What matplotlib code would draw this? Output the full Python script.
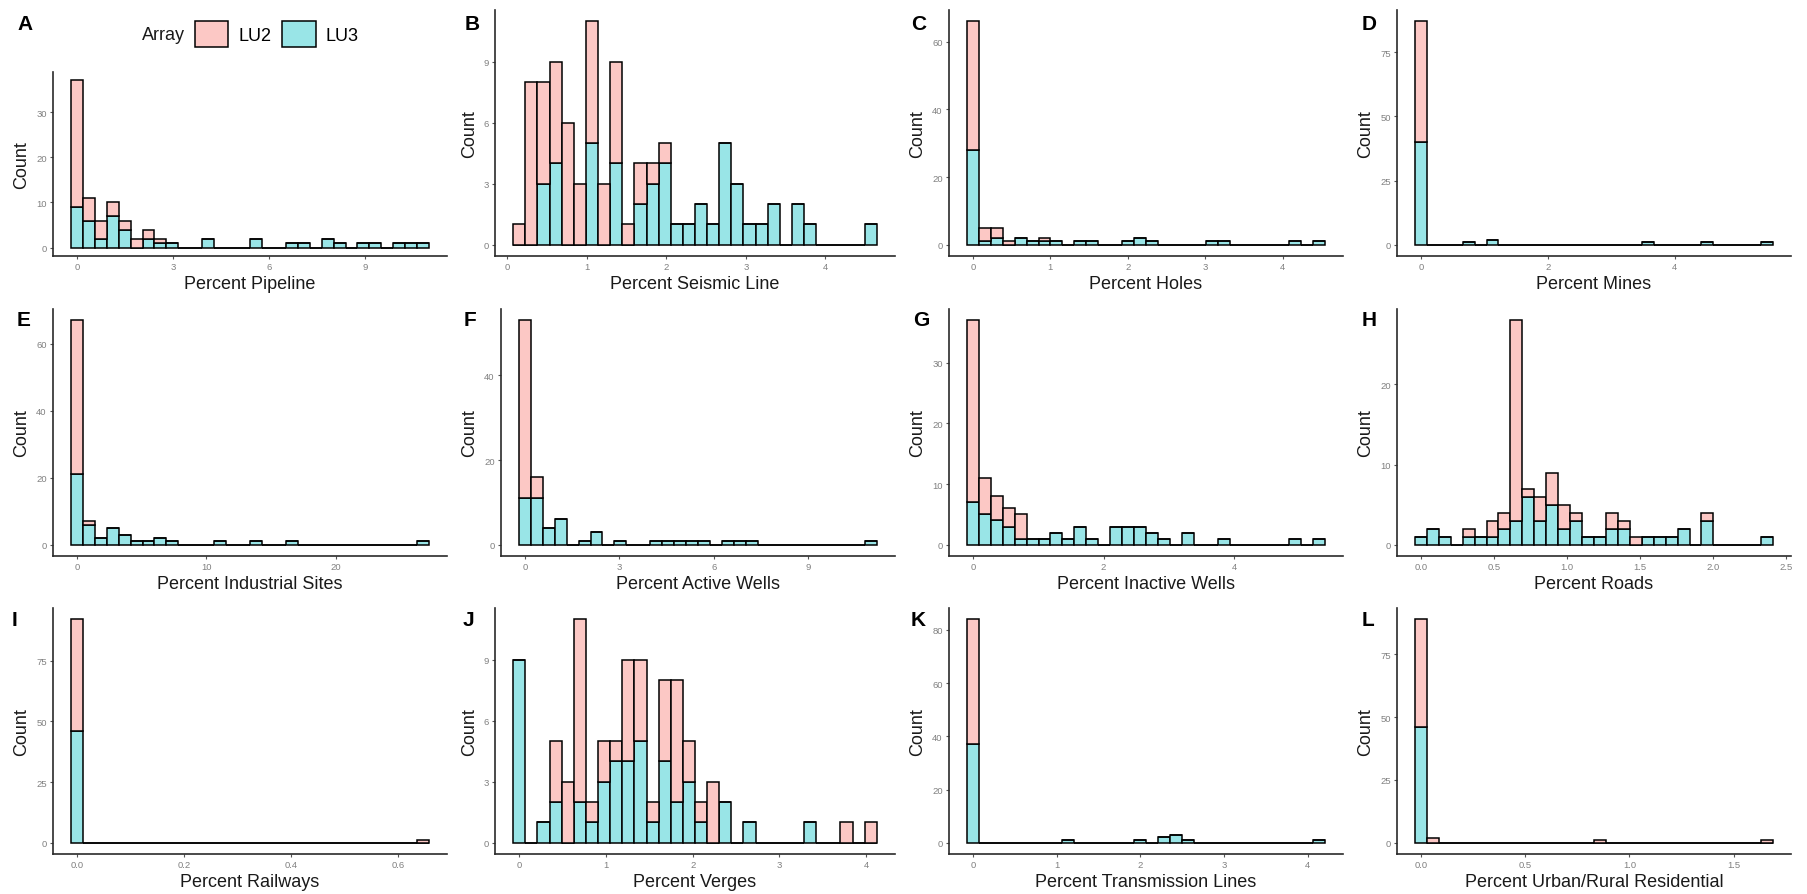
import numpy as np
import matplotlib.pyplot as plt
from matplotlib.patches import Patch

plt.rcParams['font.family'] = ['Liberation Sans', 'DejaVu Sans']

# --- Histogram counts: 30 bins per variable, (first, last) bin centre ---
pipeline_range = (0.0, 10.8)
pipeline_lu3 = [9, 6, 2, 7, 4, 0, 2, 1, 1, 0, 0, 2, 0, 0, 0, 2, 0, 0, 1, 1, 0, 2, 1, 0, 1, 1, 0, 1, 1, 1]
pipeline_lu2 = [28, 5, 4, 3, 2, 2, 2, 1, 0, 0, 0, 0, 0, 0, 0, 0, 0, 0, 0, 0, 0, 0, 0, 0, 0, 0, 0, 0, 0, 0]

seismic_range = (0.151, 4.571)
seismic_lu3 = [0, 0, 3, 4, 0, 0, 5, 0, 4, 0, 2, 3, 4, 1, 1, 2, 1, 5, 3, 1, 1, 2, 0, 2, 1, 0, 0, 0, 0, 1]
seismic_lu2 = [1, 8, 5, 5, 6, 3, 6, 3, 5, 1, 2, 1, 1, 0, 0, 0, 0, 0, 0, 0, 0, 0, 0, 0, 0, 0, 0, 0, 0, 0]

holes_range = (0.0, 4.472)
holes_lu3 = [28, 1, 2, 0, 2, 1, 1, 1, 0, 1, 1, 0, 0, 1, 2, 1, 0, 0, 0, 0, 1, 1, 0, 0, 0, 0, 0, 1, 0, 1]
holes_lu2 = [38, 4, 3, 1, 0, 0, 1, 0, 0, 0, 0, 0, 0, 0, 0, 0, 0, 0, 0, 0, 0, 0, 0, 0, 0, 0, 0, 0, 0, 0]

mines_range = (0.0, 5.46)
mines_lu3 = [40, 0, 0, 0, 1, 0, 2, 0, 0, 0, 0, 0, 0, 0, 0, 0, 0, 0, 0, 1, 0, 0, 0, 0, 1, 0, 0, 0, 0, 1]
mines_lu2 = [47, 0, 0, 0, 0, 0, 0, 0, 0, 0, 0, 0, 0, 0, 0, 0, 0, 0, 0, 0, 0, 0, 0, 0, 0, 0, 0, 0, 0, 0]

industrial_range = (0.0, 26.75)
industrial_lu3 = [21, 6, 2, 5, 3, 1, 1, 2, 1, 0, 0, 0, 1, 0, 0, 1, 0, 0, 1, 0, 0, 0, 0, 0, 0, 0, 0, 0, 0, 1]
industrial_lu2 = [46, 1, 0, 0, 0, 0, 0, 0, 0, 0, 0, 0, 0, 0, 0, 0, 0, 0, 0, 0, 0, 0, 0, 0, 0, 0, 0, 0, 0, 0]

active_range = (0.0, 11.0)
active_lu3 = [11, 11, 4, 6, 0, 1, 3, 0, 1, 0, 0, 1, 1, 1, 1, 1, 0, 1, 1, 1, 0, 0, 0, 0, 0, 0, 0, 0, 0, 1]
active_lu2 = [42, 5, 0, 0, 0, 0, 0, 0, 0, 0, 0, 0, 0, 0, 0, 0, 0, 0, 0, 0, 0, 0, 0, 0, 0, 0, 0, 0, 0, 0]

inactive_range = (0.0, 5.30)
inactive_lu3 = [7, 5, 4, 3, 1, 1, 1, 2, 1, 3, 1, 0, 3, 3, 3, 2, 1, 0, 2, 0, 0, 1, 0, 0, 0, 0, 0, 1, 0, 1]
inactive_lu2 = [30, 6, 4, 3, 4, 0, 0, 0, 0, 0, 0, 0, 0, 0, 0, 0, 0, 0, 0, 0, 0, 0, 0, 0, 0, 0, 0, 0, 0, 0]

roads_range = (0.0, 2.37)
roads_lu3 = [1, 2, 1, 0, 1, 1, 1, 2, 3, 6, 3, 5, 2, 3, 1, 1, 2, 2, 0, 1, 1, 1, 2, 0, 3, 0, 0, 0, 0, 1]
roads_lu2 = [0, 0, 0, 0, 1, 0, 2, 2, 25, 1, 3, 4, 3, 1, 0, 0, 2, 1, 1, 0, 0, 0, 0, 0, 1, 0, 0, 0, 0, 0]

railways_range = (0.0, 0.646)
railways_lu3 = [46, 0, 0, 0, 0, 0, 0, 0, 0, 0, 0, 0, 0, 0, 0, 0, 0, 0, 0, 0, 0, 0, 0, 0, 0, 0, 0, 0, 0, 0]
railways_lu2 = [46, 0, 0, 0, 0, 0, 0, 0, 0, 0, 0, 0, 0, 0, 0, 0, 0, 0, 0, 0, 0, 0, 0, 0, 0, 0, 0, 0, 0, 1]

verges_range = (0.0, 4.053)
verges_lu3 = [9, 0, 1, 2, 0, 2, 1, 3, 4, 4, 5, 1, 4, 2, 3, 1, 0, 2, 0, 1, 0, 0, 0, 0, 1, 0, 0, 0, 0, 0]
verges_lu2 = [0, 0, 0, 3, 3, 9, 1, 2, 1, 5, 4, 1, 4, 6, 2, 1, 3, 0, 0, 0, 0, 0, 0, 0, 0, 0, 0, 1, 0, 1]

transmission_range = (0.0, 4.135)
transmission_lu3 = [37, 0, 0, 0, 0, 0, 0, 0, 1, 0, 0, 0, 0, 0, 1, 0, 2, 3, 1, 0, 0, 0, 0, 0, 0, 0, 0, 0, 0, 1]
transmission_lu2 = [47, 0, 0, 0, 0, 0, 0, 0, 0, 0, 0, 0, 0, 0, 0, 0, 0, 0, 0, 0, 0, 0, 0, 0, 0, 0, 0, 0, 0, 0]

urban_range = (0.0, 1.66)
urban_lu3 = [46, 0, 0, 0, 0, 0, 0, 0, 0, 0, 0, 0, 0, 0, 0, 0, 0, 0, 0, 0, 0, 0, 0, 0, 0, 0, 0, 0, 0, 0]
urban_lu2 = [43, 2, 0, 0, 0, 0, 0, 0, 0, 0, 0, 0, 0, 0, 0, 1, 0, 0, 0, 0, 0, 0, 0, 0, 0, 0, 0, 0, 0, 1]

LU2_COLOR = '#FCC8C5'
LU3_COLOR = '#99E5E7'

W, H = 1807, 895

# letter, x label, data, x ticks, x tick format, y ticks,
# axes box in pixels (left, top, right, bottom), letter position (x, y)
panels = [
    ('A', 'Percent Pipeline', pipeline_range, pipeline_lu2, pipeline_lu3,
     [0, 3, 6, 9], '{:g}', [0, 10, 20, 30], (53, 73, 447, 257), (17, 24)),
    ('B', 'Percent Seismic Line', seismic_range, seismic_lu2, seismic_lu3,
     [0, 1, 2, 3, 4], '{:g}', [0, 3, 6, 9], (495, 11, 895, 257), (465, 24)),
    ('C', 'Percent Holes', holes_range, holes_lu2, holes_lu3,
     [0, 1, 2, 3, 4], '{:g}', [0, 20, 40, 60], (949, 11, 1343, 257), (911, 24)),
    ('D', 'Percent Mines', mines_range, mines_lu2, mines_lu3,
     [0, 2, 4], '{:g}', [0, 25, 50, 75], (1397, 11, 1791, 257), (1362, 24)),
    ('E', 'Percent Industrial Sites', industrial_range, industrial_lu2, industrial_lu3,
     [0, 10, 20], '{:g}', [0, 20, 40, 60], (53, 310, 447, 557), (17, 321)),
    ('F', 'Percent Active Wells', active_range, active_lu2, active_lu3,
     [0, 3, 6, 9], '{:g}', [0, 20, 40], (501, 310, 895, 557), (464, 321)),
    ('G', 'Percent Inactive Wells', inactive_range, inactive_lu2, inactive_lu3,
     [0, 2, 4], '{:g}', [0, 10, 20, 30], (949, 310, 1343, 557), (913, 321)),
    ('H', 'Percent Roads', roads_range, roads_lu2, roads_lu3,
     [0, 0.5, 1.0, 1.5, 2.0, 2.5], '{:.1f}', [0, 10, 20], (1397, 310, 1791, 557), (1362, 321)),
    ('I', 'Percent Railways', railways_range, railways_lu2, railways_lu3,
     [0, 0.2, 0.4, 0.6], '{:.1f}', [0, 25, 50, 75], (53, 609, 447, 855), (12, 620)),
    ('J', 'Percent Verges', verges_range, verges_lu2, verges_lu3,
     [0, 1, 2, 3, 4], '{:g}', [0, 3, 6, 9], (495, 609, 895, 855), (463, 620)),
    ('K', 'Percent Transmission Lines', transmission_range, transmission_lu2, transmission_lu3,
     [0, 1, 2, 3, 4], '{:g}', [0, 20, 40, 60, 80], (949, 609, 1343, 855), (911, 620)),
    ('L', 'Percent Urban/Rural Residential', urban_range, urban_lu2, urban_lu3,
     [0, 0.5, 1.0, 1.5], '{:.1f}', [0, 25, 50, 75], (1397, 609, 1791, 855), (1362, 620)),
]

fig = plt.figure(figsize=(W / 100, H / 100), dpi=100)

for letter, xlabel, (lo, hi), lu2, lu3, xticks, xfmt, yticks, box, lpos in panels:
    left, top, right, bottom = box
    ax = fig.add_axes([left / W, 1 - bottom / H, (right - left) / W, (bottom - top) / H])

    lu2 = np.array(lu2)
    lu3 = np.array(lu3)
    width = (hi - lo) / (len(lu3) - 1)
    centers = np.linspace(lo, hi, len(lu3))

    # LU3 stacked underneath LU2
    ax.bar(centers, lu3, width=width, color=LU3_COLOR, edgecolor='black', linewidth=1.1)
    ax.bar(centers, lu2, bottom=lu3, width=width, color=LU2_COLOR, edgecolor='black', linewidth=1.1)

    # ggplot-style 5% expansion
    x0, x1 = lo - width / 2, hi + width / 2
    pad = 0.05 * (x1 - x0)
    ax.set_xlim(x0 - pad, x1 + pad)
    ymax = (lu2 + lu3).max()
    ax.set_ylim(-0.05 * ymax, 1.05 * ymax)

    ax.set_xticks(xticks)
    ax.set_xticklabels([xfmt.format(t) for t in xticks])
    ax.set_yticks(yticks)

    for side in ['top', 'right']:
        ax.spines[side].set_visible(False)
    for side in ['left', 'bottom']:
        ax.spines[side].set_linewidth(1.2)
        ax.spines[side].set_color('#2a2a2a')
    ax.tick_params(axis='both', labelsize=6.8, labelcolor='#808080', color='#555555',
                   length=2.5, width=0.8, pad=2)

    ax.set_xlabel(xlabel, fontsize=13, labelpad=3, color='#1a1a1a')
    ax.set_ylabel('Count', fontsize=13, labelpad=4, color='#1a1a1a')

    fig.text(lpos[0] / W, 1 - lpos[1] / H, letter, fontsize=15, fontweight='bold',
             ha='left', va='center')

# Shared legend above panel A
fig.text(142 / W, 1 - 35 / H, 'Array', fontsize=13, ha='left', va='center', color='#1a1a1a')
handles = [Patch(facecolor=LU2_COLOR, edgecolor='black', linewidth=1.1, label='LU2'),
           Patch(facecolor=LU3_COLOR, edgecolor='black', linewidth=1.1, label='LU3')]
fig.legend(handles=handles, loc='center left', bbox_to_anchor=(195 / W, 1 - 35 / H),
           ncol=2, frameon=False, fontsize=13, handlelength=1.85, handleheight=1.9,
           handletextpad=0.55, columnspacing=0.6, borderpad=0, borderaxespad=0)

fig.savefig('out.png', dpi=100, facecolor='white')
